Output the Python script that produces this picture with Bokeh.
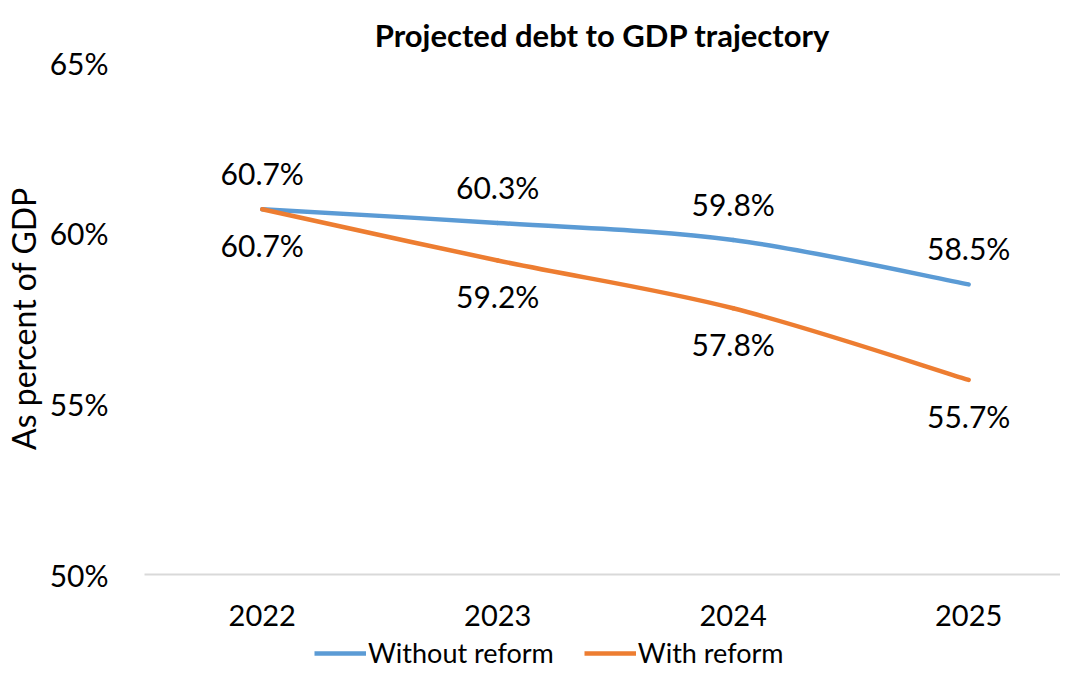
from bokeh.plotting import figure
from bokeh.layouts import column
from bokeh.models import FixedTicker, Range1d, Legend, LegendItem, ColumnDataSource, CustomJSTickFormatter
from bokeh.core.properties import value
from bokeh.embed import file_html
from bokeh.resources import INLINE

title_text = "Projected debt to GDP trajectory"
years = ["2022", "2023", "2024", "2025"]
without_reform = [60.7, 60.3, 59.8, 58.5]
with_reform = [60.7, 59.2, 57.8, 55.7]
y_ticks = [50, 55, 60, 65]
series_names = ["Without reform", "With reform"]

BLUE = "#5B9BD5"
ORANGE = "#ED7D31"
FONT = "Lato"
W = 1060

p = figure(width=W, height=634, output_backend="svg", toolbar_location=None,
           x_range=Range1d(-0.5, 3.39), y_range=Range1d(50, 65),
           min_border_left=138, min_border_right=0, min_border_top=62, min_border_bottom=60)
p.outline_line_color = None
p.grid.visible = False

p.title.text = title_text
p.title.align = "center"
p.title.offset = -60
p.title.text_font = FONT
p.title.text_font_size = "31px"
p.title.text_font_style = "bold"
p.title.text_color = "black"
p.title.standoff = 18

xs = list(range(len(years)))

# x axis
p.xaxis.ticker = FixedTicker(ticks=xs)
p.xaxis.major_label_overrides = {i: y for i, y in enumerate(years)}
p.xaxis.major_tick_line_color = None
p.xaxis.minor_tick_line_color = None
p.xaxis.axis_line_color = "#D9D9D9"
p.xaxis.axis_line_width = 2
p.xaxis.major_label_text_font = FONT
p.xaxis.major_label_text_font_size = "29px"
p.xaxis.major_label_text_color = "black"
p.xaxis.major_label_standoff = 24

# y axis
p.yaxis.ticker = FixedTicker(ticks=y_ticks)
p.yaxis.formatter = CustomJSTickFormatter(code="return tick.toFixed(0) + '%';")
p.yaxis.major_tick_line_color = None
p.yaxis.minor_tick_line_color = None
p.yaxis.axis_line_color = None
p.yaxis.major_label_text_font = FONT
p.yaxis.major_label_text_font_size = "30px"
p.yaxis.major_label_text_color = "black"
p.yaxis.major_label_standoff = 30
p.yaxis.axis_label = "As percent of GDP"
p.yaxis.axis_label_text_font = FONT
p.yaxis.axis_label_text_font_size = "32px"
p.yaxis.axis_label_text_font_style = "normal"
p.yaxis.axis_label_text_color = "black"
p.yaxis.axis_label_standoff = 4


def smooth_segments(xv, yv):
    # Catmull-Rom -> cubic Bezier control points (rendering of a smoothed line)
    n = len(xv)
    x0, y0, x1, y1, cx0, cy0, cx1, cy1 = [], [], [], [], [], [], [], []
    for i in range(n - 1):
        pm = max(i - 1, 0)
        pp = min(i + 2, n - 1)
        x0.append(xv[i]); y0.append(yv[i])
        x1.append(xv[i + 1]); y1.append(yv[i + 1])
        cx0.append(xv[i] + (xv[i + 1] - xv[pm]) / 6.0)
        cy0.append(yv[i] + (yv[i + 1] - yv[pm]) / 6.0)
        cx1.append(xv[i + 1] - (xv[pp] - xv[i]) / 6.0)
        cy1.append(yv[i + 1] - (yv[pp] - yv[i]) / 6.0)
    return dict(x0=x0, y0=y0, x1=x1, y1=y1, cx0=cx0, cy0=cy0, cx1=cx1, cy1=cy1)


for vals, col in [(without_reform, BLUE), (with_reform, ORANGE)]:
    src = ColumnDataSource(smooth_segments(xs, vals))
    p.bezier(x0="x0", y0="y0", x1="x1", y1="y1", cx0="cx0", cy0="cy0", cx1="cx1", cy1="cy1",
             source=src, line_color=col, line_width=4.5, line_cap="round")

# data labels
p.text(x=xs, y=without_reform, text=[f"{v:.1f}%" for v in without_reform],
       text_font=value(FONT), text_font_size="30px", text_color="black",
       text_align="center", text_baseline="middle", y_offset=-36)
p.text(x=xs, y=with_reform, text=[f"{v:.1f}%" for v in with_reform],
       text_font=value(FONT), text_font_size="30px", text_color="black",
       text_align="center", text_baseline="middle", y_offset=36)

# legend strip below the chart
p2 = figure(width=W, height=30, output_backend="svg", toolbar_location=None,
            x_range=Range1d(0, 1), y_range=Range1d(0, 1),
            x_axis_type=None, y_axis_type=None,
            min_border_left=0, min_border_right=0, min_border_top=0, min_border_bottom=0)
p2.outline_line_color = None
p2.grid.visible = False
r_blue = p2.line(x=[0], y=[2], line_color=BLUE, line_width=4.5)
r_orange = p2.line(x=[0], y=[2], line_color=ORANGE, line_width=4.5)

legend = Legend(items=[LegendItem(label=series_names[0], renderers=[r_blue]),
                       LegendItem(label=series_names[1], renderers=[r_orange])],
                orientation="horizontal", location=(170, -5),
                label_text_font=FONT, label_text_font_size="27px", label_text_color="black",
                glyph_width=52, glyph_height=20, label_standoff=2, spacing=30,
                border_line_color=None, background_fill_alpha=0, padding=0, margin=0)
p2.add_layout(legend)

layout = column(p, p2, spacing=0)
open("out.html", "w").write(file_html(layout, INLINE))
